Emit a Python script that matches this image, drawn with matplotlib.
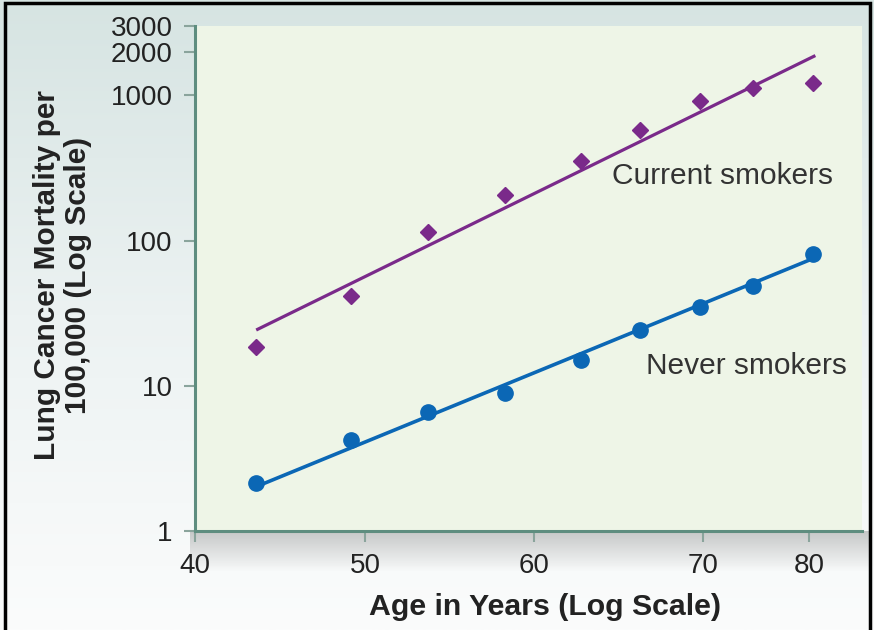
import numpy as np
import matplotlib
matplotlib.use("Agg")
import matplotlib.pyplot as plt
from matplotlib.colors import LinearSegmentedColormap
from matplotlib.patches import Rectangle
from matplotlib.ticker import FixedLocator, NullLocator, FixedFormatter

# data
ages = [43.6, 49.2, 53.7, 58.3, 62.8, 66.3, 69.8, 74.7, 80.4]
current_smokers = [18.5, 41.6, 114, 205, 352, 577, 916, 1127, 1221]
never_smokers = [2.15, 4.2, 6.55, 8.87, 15.0, 24.2, 34.9, 48.8, 81.3]

fit_ages = [43.6, 80.6]
current_fit = [24.2, 1877]
never_fit = [2.02, 76.3]

x_ticks = [40, 50, 60, 70, 80]
y_ticks = [1, 10, 100, 1000, 2000, 3000]
y_ticklabels = ["1", "10", "100", "1000", "2000", "3000"]

# the age axis in the original is hand drawn, ticks are not evenly log spaced
scale_vals = [30, 40, 50, 60, 70, 80, 90]
scale_pos = [-170, 0, 170, 339, 508, 614, 720]


def fwd(x):
    return np.interp(x, scale_vals, scale_pos)


def inv(p):
    return np.interp(p, scale_pos, scale_vals)


font = "Liberation Sans"
purple = "#7a2a8a"
blue = "#0b67b5"
spine_col = "#5e8d7f"

fig = plt.figure(figsize=(8.74, 6.30), dpi=100)

# background gradient + soft shadow under the panel
bg = fig.add_axes([0, 0, 1, 1], zorder=-5)
grad = np.linspace(0, 1, 256).reshape(-1, 1)
bg.imshow(grad, aspect="auto", extent=[0, 1, 0, 1], origin="upper",
          cmap=LinearSegmentedColormap.from_list("bg", ["#d6e4e2", "#ecf2f2", "#fbfcfc"]))
shade = np.zeros((64, 2, 4))
shade[..., :3] = 0.55
shade[..., 3] = np.linspace(0.45, 0, 64).reshape(-1, 1)
bg.imshow(shade, aspect="auto", origin="upper",
          extent=[190 / 874, 870 / 874, 1 - 572 / 630, 1 - 531 / 630])
bg.set_xlim(0, 1)
bg.set_ylim(0, 1)
bg.axis("off")
fig.patches.append(Rectangle((5 / 874, -0.01), 865 / 874, 1.01 - 3 / 630,
                             transform=fig.transFigure, fill=False,
                             edgecolor="black", linewidth=2.5, zorder=10))

ax = fig.add_axes([195 / 874, 1 - 531 / 630, 667 / 874, 505 / 630])
ax.set_facecolor("#eef5e7")
ax.set_xscale("function", functions=(fwd, inv))
ax.set_yscale("log")

ax.plot(fit_ages, current_fit, color=purple, lw=2.3, solid_capstyle="butt")
ax.plot(ages, current_smokers, "D", color=purple, markersize=8)
ax.plot(fit_ages, never_fit, color=blue, lw=2.6, solid_capstyle="butt")
ax.plot(ages, never_smokers, "o", color=blue, markersize=11)

ax.text(64.6, 277, "Current smokers", fontsize=21.5, color="#333333",
        family=font, ha="left", va="center")
ax.text(66.6, 13.6, "Never smokers", fontsize=21.5, color="#333333",
        family=font, ha="left", va="center")

ax.set_xlim(40, 85)
ax.set_ylim(1, 3000)

ax.xaxis.set_major_locator(FixedLocator(x_ticks))
ax.xaxis.set_minor_locator(NullLocator())
ax.set_xticklabels([str(t) for t in x_ticks])
ax.yaxis.set_major_locator(FixedLocator(y_ticks))
ax.yaxis.set_minor_locator(NullLocator())
ax.yaxis.set_major_formatter(FixedFormatter(y_ticklabels))

for lab in ax.get_xticklabels() + ax.get_yticklabels():
    lab.set_family(font)
    lab.set_fontsize(20)
    lab.set_color("#222222")

ax.tick_params(direction="out", length=8, width=1.5, color="#8aa49c", pad=8)

for s in ["top", "right"]:
    ax.spines[s].set_visible(False)
for s in ["left", "bottom"]:
    ax.spines[s].set_color(spine_col)
    ax.spines[s].set_linewidth(2.2)

ax.set_xlabel("Age in Years (Log Scale)", fontsize=21.8, fontweight="bold",
              family=font, color="#222222")
ax.xaxis.set_label_coords(0.525, -0.122)
ax.set_ylabel("Lung Cancer Mortality per\n100,000 (Log Scale)", fontsize=21.5,
              fontweight="bold", family=font, color="#222222",
              linespacing=1.12)
ax.yaxis.set_label_coords(-0.155, 0.507)

fig.savefig("out.png", dpi=100)
